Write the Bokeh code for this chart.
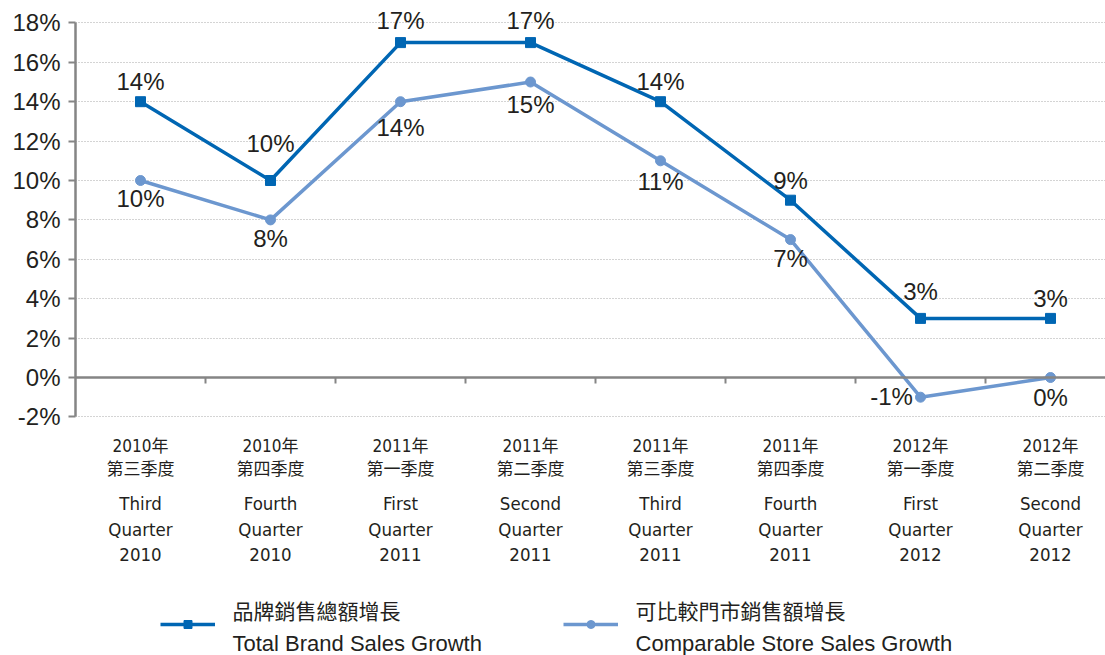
from bokeh.plotting import figure
from bokeh.models import (Range1d, LinearAxis, FixedTicker, Label, LabelSet,
                          ColumnDataSource, Legend, LegendItem)
from bokeh.core.properties import value
from bokeh.embed import file_html
from bokeh.resources import INLINE

# ---------------- data ----------------
years_zh = ["2010年", "2010年", "2011年", "2011年", "2011年", "2011年", "2012年", "2012年"]
quarters_zh = ["第三季度", "第四季度", "第一季度", "第二季度", "第三季度", "第四季度", "第一季度", "第二季度"]
quarters_en = ["Third", "Fourth", "First", "Second", "Third", "Fourth", "First", "Second"]
years_en = ["2010", "2010", "2011", "2011", "2011", "2011", "2012", "2012"]
brand_growth = [14, 10, 17, 17, 14, 9, 3, 3]
comparable_growth = [10, 8, 14, 15, 11, 7, -1, 0]
y_ticks = [-2, 0, 2, 4, 6, 8, 10, 12, 14, 16, 18]
y_tick_labels = ["-2%", "0%", "2%", "4%", "6%", "8%", "10%", "12%", "14%", "16%", "18%"]
series_zh = ["品牌銷售總額增長", "可比較門市銷售額增長"]
series_en = ["Total Brand Sales Growth", "Comparable Store Sales Growth"]

# ---------------- style ----------------
DARK = "#0066b3"
LIGHT = "#6c97cf"
TXT = "#231f20"
AXIS = "#858585"
NUM_FONT = "'Liberation Sans', Arial, sans-serif"
CAT_FONT = "'Liberation Sans Narrow', 'DejaVu Sans Condensed', 'Noto Sans CJK TC', sans-serif"
LEG_FONT = "'Liberation Sans', 'Noto Sans CJK TC', sans-serif"

PX = 19.7          # pixels per percentage point
ZERO_Y = 377       # page y of the 0% line
H = 655

def dy(page_y):
    return (ZERO_Y - page_y) / PX

def dx(page_x):
    return (page_x - 75) / 130 - 0.5

xs = list(range(len(brand_growth)))

p = figure(width=1105, height=H, output_backend="svg", toolbar_location=None,
           x_range=Range1d(-0.5, 7.423),
           y_range=Range1d(dy(H), dy(0)),
           min_border_left=75, min_border_right=0, min_border_top=0,
           min_border_bottom=0, x_axis_location=None, y_axis_location=None)
p.outline_line_color = None
p.background_fill_color = "white"
p.border_fill_color = "white"
p.xgrid.visible = False
p.ygrid.ticker = FixedTicker(ticks=y_ticks)
p.ygrid.grid_line_color = "#a8a8a8"
p.ygrid.grid_line_dash = "1 2"
p.ygrid.grid_line_width = 1

# y axis
yax = LinearAxis(ticker=FixedTicker(ticks=y_ticks), bounds=(-2, 18),
                 major_label_overrides={t: l for t, l in zip(y_ticks, y_tick_labels)})
yax.axis_line_color = AXIS
yax.axis_line_width = 2.5
yax.major_tick_line_color = AXIS
yax.major_tick_line_width = 2
yax.major_tick_out = 7
yax.major_tick_in = 0
yax.minor_tick_line_color = None
yax.major_label_standoff = 8
yax.major_label_text_font = NUM_FONT
yax.major_label_text_font_size = "24px"
yax.major_label_text_color = TXT
p.add_layout(yax, "left")

# x axis drawn at 0%
xax = LinearAxis(ticker=FixedTicker(ticks=[i + 0.5 for i in xs[:-1]]), fixed_location=0)
xax.axis_line_color = AXIS
xax.axis_line_width = 2.5
xax.major_tick_line_color = AXIS
xax.major_tick_line_width = 2
xax.major_tick_out = 0
xax.major_tick_in = 6
xax.minor_tick_line_color = None
xax.major_label_standoff = 0
xax.major_label_text_font_size = "0px"
xax.major_label_text_alpha = 0
p.add_layout(xax, "above")

# series
src = ColumnDataSource(dict(x=xs, b=brand_growth, c=comparable_growth))
l2 = p.line("x", "c", source=src, line_color=LIGHT, line_width=3.5)
m2 = p.scatter("x", "c", source=src, marker="circle", size=10, fill_color=LIGHT, line_color=LIGHT)
l1 = p.line("x", "b", source=src, line_color=DARK, line_width=3.5)
m1 = p.scatter("x", "b", source=src, marker="square", size=10, fill_color=DARK, line_color=DARK)

# value labels
b_dy = [20, 37, 22, 22, 20, 20, 27, 20]
c_dx = [0, 0, 0, 0, 0, 0, -29, 0]
c_dy = [-18, -19, -26, -22, -21, -19, 1, -20]
lsrc = ColumnDataSource(dict(x=xs, b=brand_growth, c=comparable_growth,
                             bt=[f"{v}%" for v in brand_growth],
                             ct=[f"{v}%" for v in comparable_growth],
                             bdy=b_dy, cdx=c_dx, cdy=c_dy))
for ycol, tcol, xo, yo in (("b", "bt", 0, "bdy"), ("c", "ct", "cdx", "cdy")):
    ls = LabelSet(x="x", y=ycol, text=tcol, source=lsrc, x_offset=xo, y_offset=yo,
                  text_align="center", text_baseline="middle",
                  text_font=value(NUM_FONT), text_font_size="24px", text_color=TXT)
    p.add_layout(ls)

# category labels under the axis
rows = [(years_zh, 445, "17px"), (quarters_zh, 468, "17px"),
        (quarters_en, 503, "18.5px"), (["Quarter"] * len(xs), 529, "18.5px"),
        (years_en, 554, "18.5px")]
for texts, py, fs in rows:
    for i, t in enumerate(texts):
        p.add_layout(Label(x=i, y=dy(py), text=t, text_align="center", text_baseline="middle",
                           text_font=CAT_FONT, text_font_size=fs, text_color=TXT))

# legend swatches (glyph only) and two-line legend texts
for (ln, mk, vx) in ((l1, m1, 85), (l2, m2, 488)):
    lg = Legend(items=[LegendItem(label=" ", renderers=[ln, mk])],
                location=(vx, 21), orientation="horizontal",
                glyph_width=55, glyph_height=20, label_standoff=0, label_width=0,
                padding=0, margin=0, spacing=0,
                border_line_color=None, background_fill_alpha=0,
                label_text_font_size="1px", label_height=20)
    p.add_layout(lg, "center")

for zh, en, px in ((series_zh[0], series_en[0], 232), (series_zh[1], series_en[1], 635)):
    p.add_layout(Label(x=dx(px), y=dy(611), text=zh, text_align="left", text_baseline="middle",
                       text_font=LEG_FONT, text_font_size="21px", text_color=TXT))
    p.add_layout(Label(x=dx(px), y=dy(643), text=en, text_align="left", text_baseline="middle",
                       text_font=LEG_FONT, text_font_size="22px", text_color=TXT))

open("out.html", "w").write(file_html(p, INLINE))
